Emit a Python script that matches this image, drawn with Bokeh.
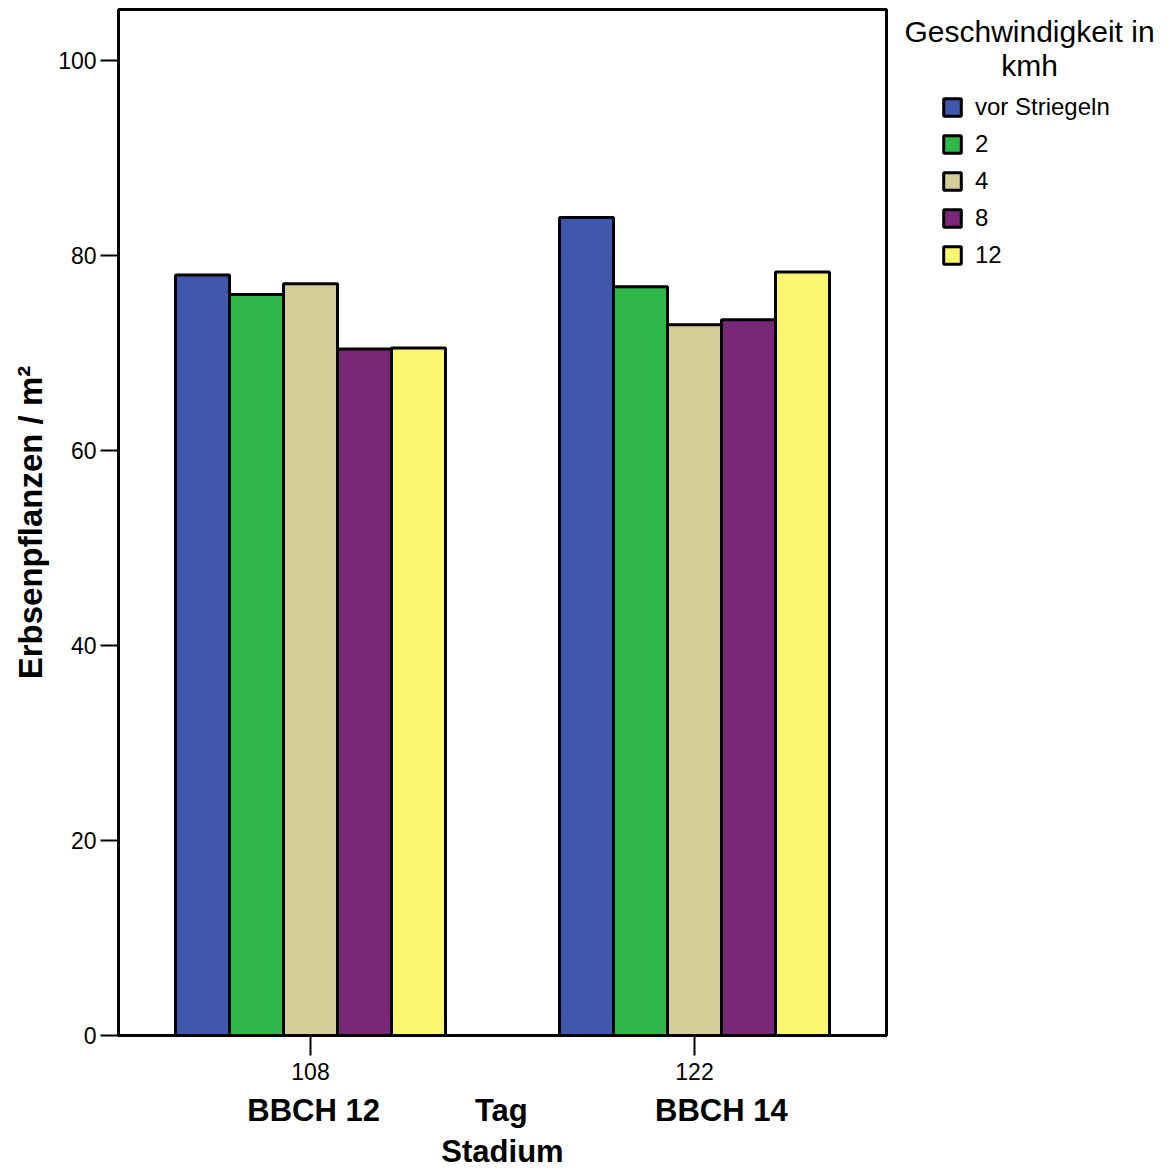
from bokeh.plotting import figure
from bokeh.models import (Range1d, FixedTicker, Label, Legend, LegendItem,
                          ColumnDataSource, LinearAxis)
from bokeh.layouts import row
from bokeh.embed import file_html
from bokeh.resources import INLINE

# ---- data ----
days = ["108", "122"]
stages = ["BBCH 12", "BBCH 14"]
x_title_1 = "Tag"
x_title_2 = "Stadium"
y_title = "Erbsenpflanzen / m²"
legend_title = ["Geschwindigkeit in", "kmh"]
series_names = ["vor Striegeln", "2", "4", "8", "12"]
colors = ["#3f58ab", "#2fb74a", "#d3ce98", "#7a2679", "#faf76f"]
vor_striegeln = [78.0, 83.9]
kmh_2 = [76.0, 76.8]
kmh_4 = [77.1, 72.9]
kmh_8 = [70.4, 73.4]
kmh_12 = [70.5, 78.3]
series_values = [vor_striegeln, kmh_2, kmh_4, kmh_8, kmh_12]
y_ticks = [0, 20, 40, 60, 80, 100]

FONT = "Liberation Sans"
H = 1172
W1 = 890
W2 = 1165 - W1

p = figure(width=W1, height=H, output_backend="svg", toolbar_location=None,
           x_range=Range1d(0, 2), y_range=Range1d(0, 105.23),
           min_border_left=118, min_border_right=4, min_border_top=9,
           min_border_bottom=H - 1035)
p.background_fill_color = "white"
p.border_fill_color = "white"
p.outline_line_color = "black"
p.outline_line_width = 3
p.grid.visible = False

centers = [0.5, 1.5]
bw = 0.1406
sources = []
for i, (vals, col) in enumerate(zip(series_values, colors)):
    xs = [c + (i - 2) * bw for c in centers]
    src = ColumnDataSource(dict(x=xs, top=vals))
    sources.append(src)
    p.vbar(x="x", top="top", bottom=0, width=bw, source=src,
           fill_color=col, line_color="black", line_width=3)

# y axis
ya = p.yaxis[0]
ya.ticker = FixedTicker(ticks=y_ticks)
ya.minor_tick_line_color = None
ya.major_tick_in = 0
ya.major_tick_out = 18
ya.major_tick_line_width = 2
ya.axis_line_width = 3
ya.major_label_standoff = 4
ya.major_label_text_font = FONT
ya.major_label_text_font_size = "23px"
ya.major_label_text_color = "black"
ya.axis_label = y_title
ya.axis_label_text_font = FONT
ya.axis_label_text_font_style = "bold"
ya.axis_label_text_font_size = "33px"
ya.axis_label_text_color = "black"
ya.axis_label_standoff = 6

# x axis (days)
xa = p.xaxis[0]
xa.ticker = FixedTicker(ticks=centers)
xa.major_label_overrides = {0.5: days[0], 1.5: days[1]}
xa.minor_tick_line_color = None
xa.major_tick_in = 0
xa.major_tick_out = 20
xa.major_tick_line_width = 2
xa.axis_line_width = 3
xa.major_label_standoff = 7
xa.major_label_text_font = FONT
xa.major_label_text_font_size = "23px"
xa.major_label_text_color = "black"

# second x axis (stages)
xa2 = LinearAxis(ticker=FixedTicker(ticks=[0.508, 0.997, 1.570]),
                 major_label_overrides={0.508: stages[0], 0.997: x_title_1, 1.570: stages[1]})
xa2.axis_line_color = None
xa2.major_tick_line_color = None
xa2.minor_tick_line_color = None
xa2.major_tick_in = 0
xa2.major_tick_out = 0
xa2.major_label_standoff = 10
xa2.major_label_text_font = FONT
xa2.major_label_text_font_style = "bold"
xa2.major_label_text_font_size = "31px"
xa2.major_label_text_color = "black"
xa2.axis_label = x_title_2
xa2.axis_label_text_font = FONT
xa2.axis_label_text_font_style = "bold"
xa2.axis_label_text_font_size = "31px"
xa2.axis_label_text_color = "black"
xa2.axis_label_standoff = 3
p.add_layout(xa2, "below")

# ---- legend panel ----
q = figure(width=W2, height=H, output_backend="svg", toolbar_location=None,
           x_range=Range1d(0, W2), y_range=Range1d(0, H),
           min_border_left=0, min_border_right=0, min_border_top=0, min_border_bottom=0)
q.axis.visible = False
q.grid.visible = False
q.outline_line_color = None
q.background_fill_color = "white"
q.border_fill_color = "white"

items = []
for name, src, col in zip(series_names, sources, colors):
    r = q.vbar(x="x", top="top", bottom=0, width=bw, source=src,
               fill_color=col, line_color="black", line_width=3, visible=False)
    items.append(LegendItem(label=name, renderers=[r]))

cx = 1029 - W1
q.add_layout(Label(x=cx, y=H - 25, text=legend_title[0], text_font=FONT,
                   text_font_size="30px", text_align="center", text_baseline="middle",
                   text_color="black"))
q.add_layout(Label(x=cx, y=H - 64, text=legend_title[1], text_font=FONT,
                   text_font_size="30px", text_align="center", text_baseline="middle",
                   text_color="black"))

legend = Legend(items=items, location=(941 - W1, 766), orientation="vertical",
                glyph_width=22, glyph_height=22, label_standoff=12, spacing=9,
                padding=0, margin=0, border_line_color=None, background_fill_alpha=0,
                inactive_fill_alpha=0, click_policy="none",
                label_text_font=FONT, label_text_font_size="24px", label_text_color="black")
q.add_layout(legend)

layout = row(p, q, spacing=0)
open("out.html", "w").write(file_html(layout, INLINE))
